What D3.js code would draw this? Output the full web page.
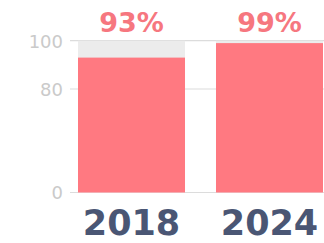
<!DOCTYPE html>
<html><head><meta charset="utf-8">
<script src="https://cdn.jsdelivr.net/npm/d3@7"></script>
<style>html,body{margin:0;padding:0;background:#fff;overflow:hidden}</style>
</head><body><svg id="c" width="324" height="243"></svg>
<script>
const categories = ["2018", "2024"];
const values = [93, 99];
const maxValue = [100, 100];
const tickValues = [0, 80, 100];

const svg = d3.select("#c");
const x = d3.scaleBand().domain(categories).range([78, 323]).paddingInner(0.2246).paddingOuter(0);
const y = d3.scaleLinear().domain([0, 80, 100]).range([192.5, 89, 40.7]);

// gridlines
svg.append("g").selectAll("line").data(tickValues).join("line")
  .attr("x1", 70).attr("x2", 324)
  .attr("y1", d => y(d)).attr("y2", d => y(d))
  .attr("stroke", "#dcdcdc").attr("stroke-width", 1.2);

// tick labels
const axis = d3.axisLeft(y).tickValues(tickValues).tickSize(0).tickPadding(0);
const ag = svg.append("g").attr("transform", "translate(63,0)").call(axis);
ag.select(".domain").remove();
ag.selectAll("text").attr("font-family", "'DejaVu Sans', sans-serif").attr("font-size", 18)
  .attr("font-weight", 400)
  .attr("fill", "#cacaca").attr("dy", "0.36em");

// background bars
svg.append("g").selectAll("rect").data(categories).join("rect")
  .attr("x", d => x(d)).attr("width", x.bandwidth())
  .attr("y", (d, i) => y(maxValue[i])).attr("height", (d, i) => y(0) - y(maxValue[i]))
  .attr("fill", "#ececec");

// value bars
svg.append("g").selectAll("rect").data(categories).join("rect")
  .attr("x", d => x(d)).attr("width", x.bandwidth())
  .attr("y", (d, i) => y(values[i])).attr("height", (d, i) => y(0) - y(values[i]))
  .attr("fill", "#ff7981");

// value labels
svg.append("g").selectAll("text").data(categories).join("text")
  .attr("x", d => x(d) + x.bandwidth() / 2).attr("y", 32)
  .attr("text-anchor", "middle")
  .attr("font-family", "'DejaVu Sans', sans-serif").attr("font-weight", 700).attr("font-size", 27)
  .attr("fill", "#f6777f")
  .text((d, i) => values[i] + "%");

// category labels
svg.append("g").selectAll("text").data(categories).join("text")
  .attr("x", d => x(d) + x.bandwidth() / 2).attr("y", 235)
  .attr("text-anchor", "middle")
  .attr("font-family", "'DejaVu Sans', sans-serif").attr("font-weight", 700).attr("font-size", 35)
  .attr("fill", "#4a5674")
  .text(d => d);
</script>
</body></html>
